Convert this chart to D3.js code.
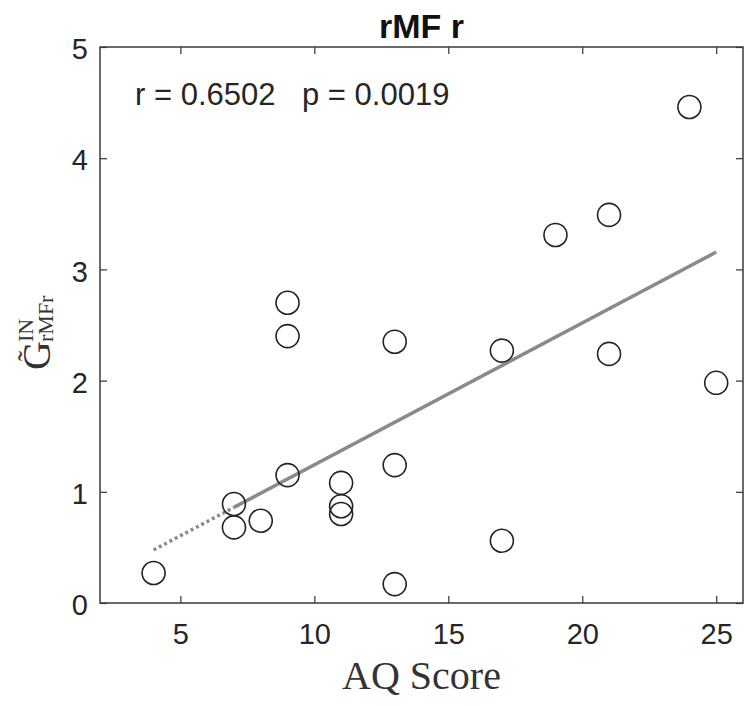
<!DOCTYPE html>
<html>
<head>
<meta charset="utf-8">
<script src="https://cdn.jsdelivr.net/npm/d3@7"></script>
<style>
  body { margin: 0; background: #fff; }
  .tick text { font-family: "Liberation Sans", Arial, sans-serif; fill: #262626; }
  .domain { display: none; }
  .tick line { stroke: #333; stroke-width: 1.2; }
</style>
</head>
<body>
<div id="chart"></div>
<script>
// data
const aqScore = [4, 7, 7, 8, 9, 9, 9, 11, 11, 11, 13, 13, 13, 17, 17, 19, 21, 21, 24, 25];
const gValue = [0.27, 0.89, 0.68, 0.74, 1.15, 2.40, 2.70, 1.08, 0.87, 0.80, 2.35, 1.24, 0.17, 2.27, 0.56, 3.31, 3.49, 2.24, 4.46, 1.98];
const xTicks = [5, 10, 15, 20, 25];
const yTicks = [0, 1, 2, 3, 4, 5];
const dottedPart = [4, 7];   // fit line drawn dotted here
const solidPart = [7, 25];   // and solid here
const statsR = "r = 0.6502";
const statsP = "p = 0.0019";
const titleText = "rMF r";

const W = 755, H = 706;
const margin = {top: 47, right: 12, bottom: 103, left: 100},
width = W - margin.left - margin.right,
height = H - margin.top - margin.bottom;

const svg = d3.select("#chart")
.append("svg")
.attr("width", W)
.attr("height", H)
.append("g")
.attr("transform", `translate(${margin.left}, ${margin.top})`);

const x = d3.scaleLinear().domain([2, 26]).range([0, width]);
const y = d3.scaleLinear().domain([0, 5]).range([height, 0]);

// axes, ticks pointing inward like matlab
svg.append("g")
.attr("transform", `translate(0, ${height})`)
.call(d3.axisBottom(x).tickValues(xTicks).tickSizeInner(-7).tickSizeOuter(0).tickPadding(20))
.selectAll("text").style("font-size", "29px");

svg.append("g")
.call(d3.axisLeft(y).tickValues(yTicks).tickFormat(d3.format("d")).tickSizeInner(-7).tickSizeOuter(0).tickPadding(12))
.selectAll("text").style("font-size", "29px").attr("dy", "0.4em");

svg.append("g")
.call(d3.axisTop(x).tickValues(xTicks).tickSizeInner(-7).tickSizeOuter(0).tickFormat(""));

svg.append("g")
.attr("transform", `translate(${width}, 0)`)
.call(d3.axisRight(y).tickValues(yTicks).tickSizeInner(-7).tickSizeOuter(0).tickFormat(""));

// box
svg.append("rect")
.attr("width", width)
.attr("height", height)
.attr("fill", "none")
.attr("stroke", "#3a3a3a")
.attr("stroke-width", 1.5);

// least squares fit
const mx = d3.mean(aqScore), my = d3.mean(gValue);
let sxy = 0, sxx = 0;
aqScore.forEach((v, i) => { sxy += (v - mx) * (gValue[i] - my); sxx += (v - mx) * (v - mx); });
const slope = sxy / sxx, icpt = my - slope * mx;
const fit = d3.line().x(d => x(d)).y(d => y(icpt + slope * d));

svg.append("path")
.datum(dottedPart)
.attr("d", fit)
.attr("fill", "none")
.attr("stroke", "#8a8a8a")
.attr("stroke-width", 3.5)
.attr("stroke-dasharray", "3,3");

svg.append("path")
.datum(solidPart)
.attr("d", fit)
.attr("fill", "none")
.attr("stroke", "#8a8a8a")
.attr("stroke-width", 3.5);

// points
svg.append("g")
.selectAll("circle")
.data(aqScore)
.join("circle")
.attr("cx", d => x(d))
.attr("cy", (d, i) => y(gValue[i]))
.attr("r", 11.5)
.attr("fill", "none")
.attr("stroke", "#222")
.attr("stroke-width", 1.6);

// stats text
const st = svg.append("text")
.attr("y", 58)
.style("font-family", "Liberation Sans, Arial, sans-serif")
.style("font-size", "31px")
.style("fill", "#262626");
st.append("tspan").attr("x", 35).text(statsR);
st.append("tspan").attr("x", 202).text(statsP);

// title
svg.append("text")
.attr("x", width / 2)
.attr("y", -9)
.attr("text-anchor", "middle")
.style("font-family", "Liberation Sans, Arial, sans-serif")
.style("font-size", "34px")
.style("font-weight", "bold")
.style("fill", "#111")
.text(titleText);

// x label (latex look)
svg.append("text")
.attr("x", width / 2)
.attr("y", height + 86)
.attr("text-anchor", "middle")
.style("font-family", "Liberation Serif, serif")
.style("font-size", "40px")
.style("fill", "#333")
.text("AQ Score");

// y label: G tilde with IN superscript and rMFr subscript
const yl = d3.select("svg").append("g")
.attr("transform", "translate(50, 370) rotate(-90)")
.style("font-family", "Liberation Serif, serif")
.style("fill", "#333");
yl.append("text").attr("x", 0).attr("y", 0).style("font-size", "40px").text("G");
yl.append("text").attr("x", 14).attr("y", -12).attr("text-anchor", "middle").style("font-size", "30px").text("\u02dc");
yl.append("text").attr("x", 28).attr("y", -17).style("font-size", "22px").text("IN");
yl.append("text").attr("x", 28).attr("y", 3).style("font-size", "22px").text("rMFr");
</script>
</body>
</html>
